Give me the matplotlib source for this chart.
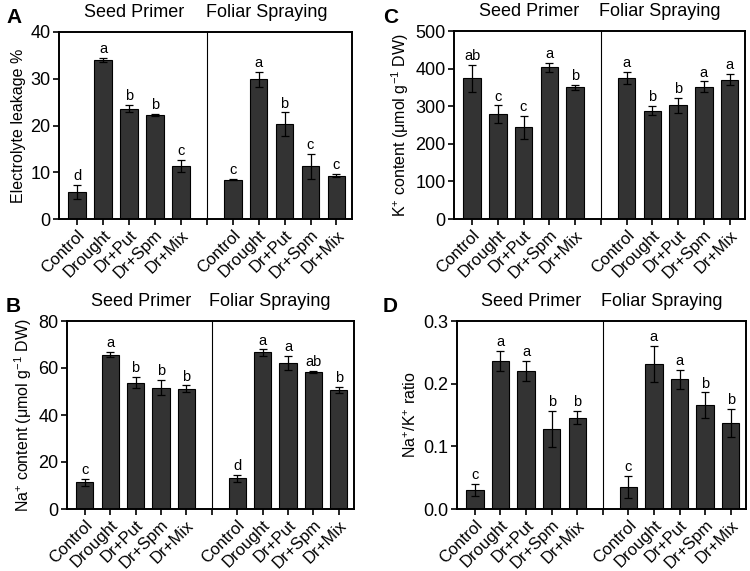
import matplotlib
matplotlib.use("Agg")
import matplotlib.pyplot as plt

plt.rcParams['font.family'] = ['Liberation Sans', 'DejaVu Sans']
plt.rcParams['mathtext.fontset'] = 'custom'
plt.rcParams['mathtext.rm'] = 'Liberation Sans'
plt.rcParams['mathtext.it'] = 'Liberation Sans'

treatments = ["Control", "Drought", "Dr+Put", "Dr+Spm", "Dr+Mix"]
groups = ["Seed Primer", "Foliar Spraying"]

# A - electrolyte leakage
el_seed = [5.8, 34.0, 23.6, 22.2, 11.4]
el_seed_err = [1.5, 0.4, 0.8, 0.2, 1.3]
el_fol = [8.4, 29.9, 20.3, 11.3, 9.3]
el_fol_err = [0.1, 1.6, 2.5, 2.7, 0.4]
el_seed_lab = ["d", "a", "b", "b", "c"]
el_fol_lab = ["c", "a", "b", "c", "c"]

# B - Na+ content
na_seed = [11.3, 65.7, 53.7, 51.6, 51.2]
na_seed_err = [1.5, 1.1, 2.4, 3.2, 1.4]
na_fol = [13.1, 66.6, 62.3, 58.4, 50.6]
na_fol_err = [1.4, 1.3, 3.0, 0.5, 1.3]
na_seed_lab = ["c", "a", "b", "b", "b"]
na_fol_lab = ["d", "a", "a", "ab", "b"]

# C - K+ content
k_seed = [374, 279, 244, 403, 350]
k_seed_err = [36, 23, 31, 13, 7]
k_fol = [375, 288, 302, 352, 371]
k_fol_err = [16, 12, 21, 14, 14]
k_seed_lab = ["ab", "c", "c", "a", "b"]
k_fol_lab = ["a", "b", "b", "a", "a"]

# D - Na+/K+ ratio
r_seed = [0.030, 0.236, 0.220, 0.128, 0.146]
r_seed_err = [0.010, 0.016, 0.016, 0.029, 0.011]
r_fol = [0.035, 0.231, 0.207, 0.166, 0.137]
r_fol_err = [0.018, 0.029, 0.015, 0.020, 0.022]
r_seed_lab = ["c", "a", "a", "b", "b"]
r_fol_lab = ["c", "a", "a", "b", "b"]

W, H = 750, 571
fig = plt.figure(figsize=(W / 100, H / 100), dpi=100)


def px_axes(left, top, right, bottom):
    return fig.add_axes([left / W, 1 - bottom / H, (right - left) / W, (bottom - top) / H])


def panel(ax, seed, seed_err, fol, fol_err, seed_lab, fol_lab, ymax, step, ylabel, fmt):
    xs_seed = [0, 1, 2, 3, 4]
    xs_fol = [6, 7, 8, 9, 10]
    for xs, vals, errs, labs in [(xs_seed, seed, seed_err, seed_lab), (xs_fol, fol, fol_err, fol_lab)]:
        ax.bar(xs, vals, width=0.68, color="#333333", edgecolor="black", linewidth=0.8, zorder=2)
        ax.errorbar(xs, vals, yerr=errs, fmt="none", ecolor="black", elinewidth=0.9,
                    capsize=3, capthick=0.9, zorder=3)
        for x, v, e, t in zip(xs, vals, errs, labs):
            ax.text(x, v + e + ymax * 0.01, t, ha="center", va="bottom", fontsize=10.5)
    ax.axvline(5, color="black", linewidth=0.8)
    ax.set_xlim(-0.7, 10.6)
    ax.set_ylim(0, ymax)
    yt = [i * step for i in range(int(round(ymax / step)) + 1)]
    ax.set_yticks(yt)
    ax.set_yticklabels([fmt.format(v) for v in yt], fontsize=13)
    ax.set_xticks(xs_seed + [5] + xs_fol)
    ax.set_xticklabels(treatments + [""] + treatments, rotation=45, ha="right",
                       rotation_mode="anchor", fontsize=12)
    ax.tick_params(direction="out", length=4, width=1.2, pad=2)
    for s in ax.spines.values():
        s.set_linewidth(1.4)
    ax.set_ylabel(ylabel, fontsize=11.5, labelpad=3)
    ax.text(2.2, ymax * 1.06, groups[0], ha="center", va="bottom", fontsize=13)
    ax.text(7.3, ymax * 1.06, groups[1], ha="center", va="bottom", fontsize=13)


axA = px_axes(59, 32, 352, 219)
panel(axA, el_seed, el_seed_err, el_fol, el_fol_err, el_seed_lab, el_fol_lab,
      40, 10, "Electrolyte leakage %", "{:g}")

axC = px_axes(454, 31, 745, 219)
panel(axC, k_seed, k_seed_err, k_fol, k_fol_err, k_seed_lab, k_fol_lab,
      500, 100, "K$^{+}$ content (μmol g$^{-1}$ DW)", "{:g}")

axB = px_axes(67, 321, 354, 509)
panel(axB, na_seed, na_seed_err, na_fol, na_fol_err, na_seed_lab, na_fol_lab,
      80, 20, "Na$^{+}$ content (μmol g$^{-1}$ DW)", "{:g}")

axD = px_axes(457, 321, 746, 509)
panel(axD, r_seed, r_seed_err, r_fol, r_fol_err, r_seed_lab, r_fol_lab,
      0.3, 0.1, "Na$^{+}$/K$^{+}$ ratio", "{:.1f}")

# panel letters
for letter, x, y in [("A", 6, 8), ("C", 383, 8), ("B", 6, 297), ("D", 383, 297)]:
    fig.text(x / W, 1 - y / H, letter, ha="left", va="top", fontsize=15, fontweight="bold")

fig.savefig("out.png", dpi=100)
